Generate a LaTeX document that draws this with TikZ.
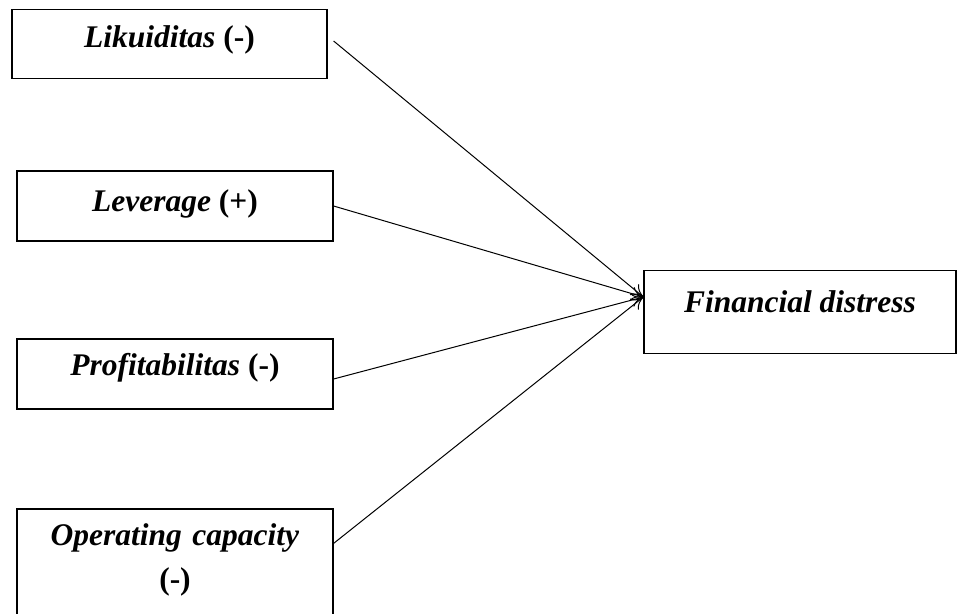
\documentclass[tikz,border=0pt]{standalone}
\usepackage{fontspec}
\setmainfont{Liberation Serif}
\usetikzlibrary{arrows.meta}

\begin{document}
\begin{tikzpicture}[x=1pt,y=-1pt,
    varbox/.style={draw,line width=1.2pt,inner xsep=0pt,inner ysep=0pt,
        font=\fontsize{31.5}{36}\selectfont\bfseries},
    link/.style={line width=1pt,-{To[length=12pt,width=14pt]}}]
    \useasboundingbox (0,0) rectangle (957,613);
    % variabel independen
    \node[varbox,minimum width=315pt,text height=38pt,text depth=31pt] (lik) at (169.5,44) {\textit{Likuiditas} (-)};
    \node[varbox,minimum width=316pt,text height=40pt,text depth=30pt] (lev) at (175,206) {\textit{Leverage} (+)};
    \node[varbox,minimum width=316pt,text height=36pt,text depth=34pt] (prof) at (175,374) {\textit{Profitabilitas} (-)};
    \node[varbox,minimum width=316pt,text width=316pt,align=center,text height=36pt,text depth=110pt] (opcap) at (175,582) {\textit{Operating capacity}\\[8pt](-)};
    % variabel dependen
    \node[varbox,minimum width=312pt,text height=42pt,text depth=41pt] (fd) at (800,312) {\textit{Financial distress}};
    \coordinate (tip) at ([yshift=15pt]fd.west);
    \draw[link] ([xshift=6pt,yshift=3pt]lik.east) -- (tip);
    \draw[link] (lev.east) -- (tip);
    \draw[link] ([yshift=-5pt]prof.east) -- (tip);
    \draw[link] ([yshift=-35pt]opcap.north east) -- (tip);
\end{tikzpicture}
\end{document}
